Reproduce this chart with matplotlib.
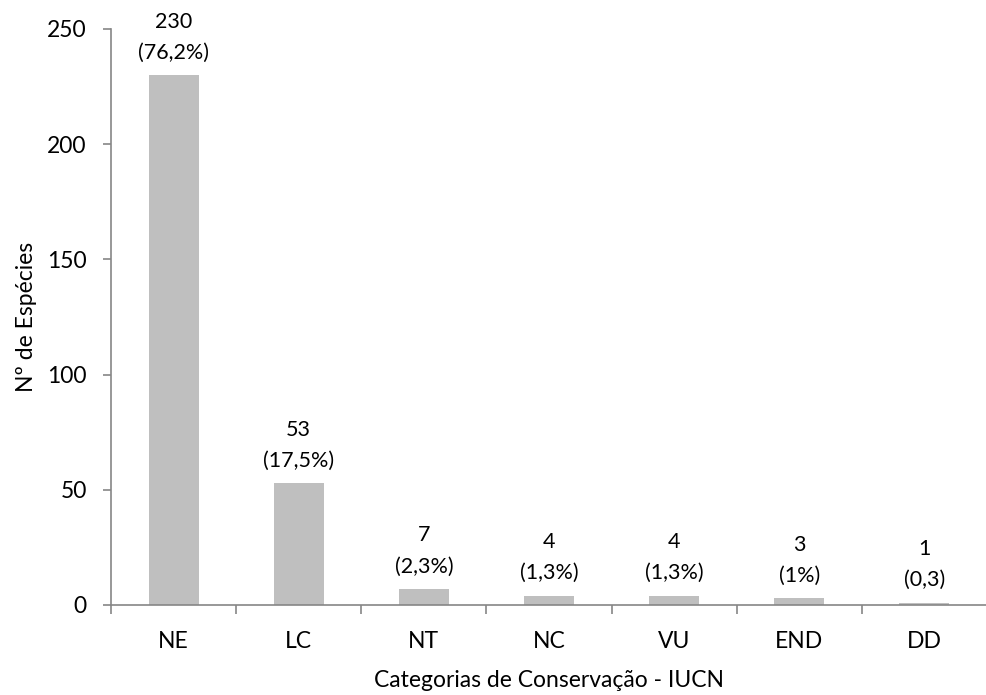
import matplotlib
matplotlib.use("Agg")
from matplotlib import pyplot as plt
from matplotlib.ticker import FixedLocator

categories = ["NE", "LC", "NT", "NC", "VU", "END", "DD"]
counts = [230, 53, 7, 4, 4, 3, 1]
shares = ["(76,2%)", "(17,5%)", "(2,3%)", "(1,3%)", "(1,3%)", "(1%)", "(0,3)"]

plt.rcParams["font.family"] = ["Lato", "DejaVu Sans"]
AXIS_GREY = "#868686"

fig = plt.figure(figsize=(9.87, 6.95), dpi=100)
ax = fig.add_axes([0.1125, 0.1295, 0.8875, 0.8288])

x = range(len(categories))
ax.bar(x, counts, width=0.4, color="#BFBFBF", zorder=2)

# two-line labels above each bar
for xi, c, s in zip(x, counts, shares):
    ax.annotate(f"{c}\n{s}", (xi, c), xytext=(0, 9), textcoords="offset points",
                ha="center", va="bottom", fontsize=15.5, linespacing=1.68)

ax.set_xlim(-0.5, len(categories) - 0.5)
ax.set_ylim(0, 250)
ax.set_yticks([0, 50, 100, 150, 200, 250])
ax.set_xticks(list(x))
ax.set_xticklabels(categories)
ax.xaxis.set_minor_locator(FixedLocator([i - 0.5 for i in range(len(categories) + 1)]))

for side in ("top", "right"):
    ax.spines[side].set_visible(False)
for side in ("left", "bottom"):
    ax.spines[side].set_color(AXIS_GREY)
    ax.spines[side].set_linewidth(1.2)

ax.tick_params(axis="x", which="major", length=0, pad=19, labelsize=16.5)
ax.tick_params(axis="x", which="minor", length=6.5, width=1.2, color=AXIS_GREY, direction="out")
ax.tick_params(axis="y", length=5.5, width=1.2, color=AXIS_GREY, pad=12, labelsize=16.5)

ax.set_xlabel("Categorias de Conservação - IUCN", fontsize=16.5, labelpad=13)
ax.set_ylabel("Nº de Espécies", fontsize=16.5, labelpad=7)

fig.savefig("out.png", dpi=100)
